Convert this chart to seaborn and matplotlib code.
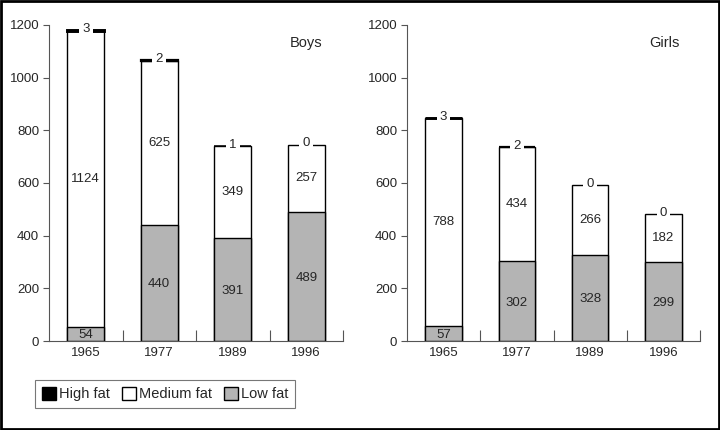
import matplotlib
matplotlib.use("Agg")
import matplotlib.pyplot as plt
import matplotlib.patches as mpatches
import seaborn as sns
import pandas as pd
import numpy as np

years = ["1965", "1977", "1989", "1996"]
boys_low = [54, 440, 391, 489]
boys_med = [1124, 625, 349, 257]
boys_high = [3, 2, 1, 0]
girls_low = [57, 302, 328, 299]
girls_med = [788, 434, 266, 182]
girls_high = [3, 2, 0, 0]
yticks = [0, 200, 400, 600, 800, 1000, 1200]

sns.set_style("white")
plt.rcParams["font.family"] = ["Liberation Sans", "DejaVu Sans"]

GRAY = "#b4b4b4"
AX_COL = "#555555"

fig = plt.figure(figsize=(7.2, 4.3), dpi=100)
ax1 = fig.add_axes([49/720, 1-341/430, (343-49)/720, (341-25)/430])
ax2 = fig.add_axes([407/720, 1-341/430, (700-407)/720, (341-25)/430])


def panel(ax, low, med, high, title):
    df = pd.DataFrame({"year": years, "low": low, "med": med, "high": high})
    df["lowmed"] = df["low"] + df["med"]
    df["total"] = df["lowmed"] + df["high"]
    sns.barplot(data=df, x="year", y="lowmed", color="white", edgecolor="black",
                linewidth=1.0, width=0.5, ax=ax, saturation=1)
    sns.barplot(data=df, x="year", y="low", color=GRAY, edgecolor="black",
                linewidth=1.0, width=0.5, ax=ax, saturation=1)
    xs = np.arange(len(years))
    for i in range(len(years)):
        h = df["high"][i]
        if h > 0:
            ax.bar(xs[i], h, bottom=df["lowmed"][i], width=0.5, color="black",
                   edgecolor="black", linewidth=0.6 + 0.5 * h)
        ax.text(xs[i], df["total"][i] + 4, str(h), ha="center", va="center", fontsize=9.5,
                bbox=dict(facecolor="white", edgecolor="none", pad=2.3), zorder=5)
        ax.text(xs[i], df["low"][i] + df["med"][i] / 2, str(df["med"][i]),
                ha="center", va="center", fontsize=9.5, zorder=5)
        ax.text(xs[i], df["low"][i] / 2 - 5, str(df["low"][i]),
                ha="center", va="center", fontsize=9.5, zorder=5)
    ax.set_xlim(-0.5, 3.5)
    ax.set_ylim(0, 1200)
    ax.set_yticks(yticks)
    ax.set_yticklabels([str(t) for t in yticks])
    ax.set_xlabel("")
    ax.set_ylabel("")
    for s in ["top", "right"]:
        ax.spines[s].set_visible(False)
    for s in ["left", "bottom"]:
        ax.spines[s].set_color(AX_COL)
        ax.spines[s].set_linewidth(0.8)
    ax.tick_params(axis="y", direction="out", length=4, color=AX_COL, width=0.8,
                   labelsize=9.5, pad=3, left=True)
    ax.tick_params(axis="x", which="major", length=0, labelsize=9.5, pad=4, bottom=True)
    ax.set_xticks([0.5, 1.5, 2.5, 3.5], minor=True)
    ax.tick_params(axis="x", which="minor", direction="in", length=8, color=AX_COL,
                   width=0.8, bottom=True)
    ax.text(0.93, 0.965, title, transform=ax.transAxes, ha="right", va="top", fontsize=10.5)
    ax.set_facecolor("none")


panel(ax1, boys_low, boys_med, boys_high, "Boys")
panel(ax2, girls_low, girls_med, girls_high, "Girls")

handles = [mpatches.Patch(facecolor="black", edgecolor="black", label="High fat"),
           mpatches.Patch(facecolor="white", edgecolor="black", label="Medium fat"),
           mpatches.Patch(facecolor=GRAY, edgecolor="black", label="Low fat")]
leg = fig.legend(handles=handles, loc="upper left", bbox_to_anchor=(35/720, 1-380/430),
                 ncol=3, frameon=True, fancybox=False, fontsize=10.5,
                 handlelength=1.0, handleheight=1.0, handletextpad=0.2,
                 columnspacing=0.8, borderpad=0.45, borderaxespad=0)
leg.get_frame().set_edgecolor(AX_COL)
leg.get_frame().set_linewidth(0.8)

fig.patches.append(mpatches.Rectangle((0.002, 0.003), 0.996, 0.994, transform=fig.transFigure,
                                      fill=False, edgecolor="black", linewidth=2))

fig.savefig("out.png", dpi=100)
